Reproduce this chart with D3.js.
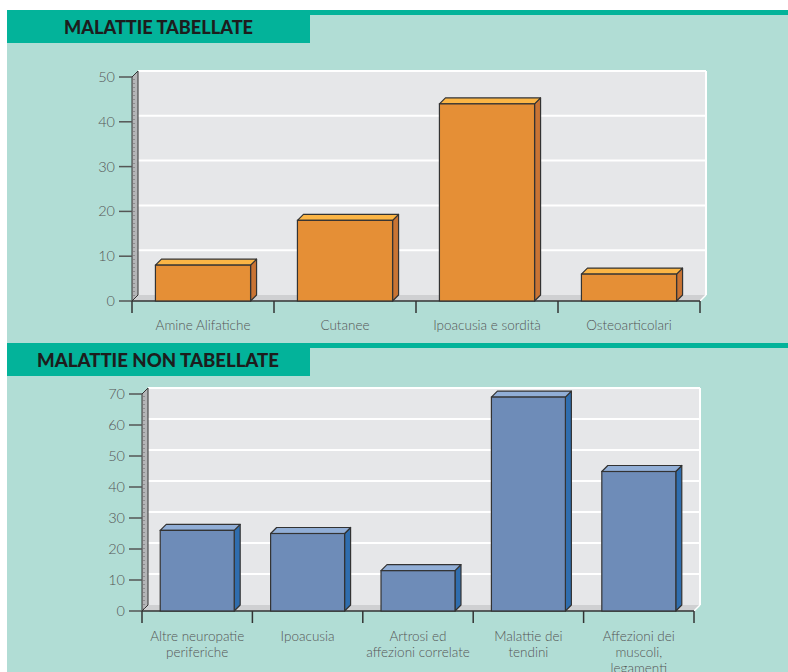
<!DOCTYPE html>
<html lang="it">
<head>
<meta charset="UTF-8">
<title>Malattie</title>
<style>
body { margin: 0; background: #fff; }
svg { display: block; }
.tick-label { font-family: 'Lato', sans-serif; font-weight: 300; font-size: 14.5px; fill: #555; }
.cat-label { font-family: 'Lato', sans-serif; font-weight: 300; font-size: 13.5px; fill: #555; }
.header { font-family: 'Lato', sans-serif; font-weight: 900; font-size: 19px; fill: #1d1d1d; }
</style>
</head>
<body>
<div id="chart"></div>
<script src="https://cdnjs.cloudflare.com/ajax/libs/d3/7.8.5/d3.min.js"></script>
<script>

// chart 1
var tabCategories = ["Amine Alifatiche", "Cutanee", "Ipoacusia e sordità", "Osteoarticolari"];
var tabValues = [8, 18, 44, 6];
var tabTicks = [0, 10, 20, 30, 40, 50];

// chart 2
var nonTabCategories = ["Altre neuropatie|periferiche", "Ipoacusia", "Artrosi ed|affezioni correlate", "Malattie dei|tendini", "Affezioni dei|muscoli,|legamenti"];
var nonTabValues = [26, 25, 13, 69, 45];
var nonTabTicks = [0, 10, 20, 30, 40, 50, 60, 70];

var width = 788, height = 672;
var dark = '#03b39a', light = '#b1ddd5';

var svg = d3.select('#chart').append('svg')
  .attr('width', width)
  .attr('height', height);

svg.append('rect').attr('x', 7).attr('y', 10).attr('width', width - 7).attr('height', height - 10).attr('fill', light);

function header(y, text, tx, len) {
  svg.append('rect').attr('x', 7).attr('y', y).attr('width', width - 7).attr('height', 5).attr('fill', dark);
  svg.append('rect').attr('x', 7).attr('y', y).attr('width', 303).attr('height', 33).attr('fill', dark);
  svg.append('text').attr('class', 'header')
    .attr('x', tx).attr('y', y + 24)
    .attr('textLength', len).attr('lengthAdjust', 'spacingAndGlyphs')
    .text(text);
}

function chart(opt) {
  var d = 6; // depth
  var g = svg.append('g');
  var x = d3.scaleBand().domain(opt.categories).range([opt.x0, opt.x1])
    .paddingInner(0.33).paddingOuter(0.165);
  var y = d3.scaleLinear().domain([0, opt.max]).range([opt.y0, opt.y1]);
  var y0 = y(0), yTop = y(opt.max);

  // back wall
  g.append('rect').attr('x', opt.x0 + d).attr('y', yTop - d)
    .attr('width', opt.x1 - opt.x0).attr('height', y0 - yTop)
    .attr('fill', '#e6e7e9');
  g.selectAll('.grid').data(opt.ticks.slice(1)).enter().append('line')
    .attr('x1', opt.x0 + d).attr('x2', opt.x1 + d)
    .attr('y1', function (t) { return y(t) - d; })
    .attr('y2', function (t) { return y(t) - d; })
    .attr('stroke', '#fff').attr('stroke-width', 2);
  g.append('line').attr('x1', opt.x1 + d).attr('x2', opt.x1 + d)
    .attr('y1', yTop - d).attr('y2', y0 - d)
    .attr('stroke', '#fff').attr('stroke-width', 2);

  // floor
  g.append('path')
    .attr('d', 'M' + opt.x0 + ',' + y0 + 'L' + (opt.x0 + d) + ',' + (y0 - d) +
      'L' + (opt.x1 + d) + ',' + (y0 - d) + 'L' + opt.x1 + ',' + y0 + 'Z')
    .attr('fill', '#cfd0d2');
  g.append('line').attr('x1', opt.x1).attr('x2', opt.x1 + d)
    .attr('y1', y0).attr('y2', y0 - d).attr('stroke', '#fff').attr('stroke-width', 1.5);

  // left wall
  g.append('path')
    .attr('d', 'M' + opt.x0 + ',' + y0 + 'L' + opt.x0 + ',' + yTop +
      'L' + (opt.x0 + d) + ',' + (yTop - d) + 'L' + (opt.x0 + d) + ',' + (y0 - d) + 'Z')
    .attr('fill', '#b4b5b7').attr('stroke', '#333').attr('stroke-width', 1);
  g.append('line').attr('x1', opt.x0 + 2).attr('x2', opt.x0 + 2)
    .attr('y1', yTop + 2).attr('y2', y0 - 2)
    .attr('stroke', '#666').attr('stroke-width', 1).attr('stroke-dasharray', '1,3');

  // y axis ticks
  g.selectAll('.ytick').data(opt.ticks).enter().append('line')
    .attr('x1', opt.x0 - 13).attr('x2', opt.x0)
    .attr('y1', function (t) { return y(t); })
    .attr('y2', function (t) { return y(t); })
    .attr('stroke', '#555').attr('stroke-width', 1.5);
  g.selectAll('.tick-label').data(opt.ticks).enter().append('text')
    .attr('class', 'tick-label')
    .attr('x', opt.x0 - 17)
    .attr('y', function (t) { return y(t) + 5; })
    .attr('text-anchor', 'end')
    .text(function (t) { return t; });

  // x axis
  g.append('line').attr('x1', opt.x0).attr('x2', opt.x1)
    .attr('y1', y0).attr('y2', y0).attr('stroke', '#333').attr('stroke-width', 1.5);
  var bounds = d3.range(opt.categories.length + 1).map(function (i) { return opt.x0 + i * x.step(); });
  g.selectAll('.xtick').data(bounds).enter().append('line')
    .attr('x1', function (b) { return b; }).attr('x2', function (b) { return b; })
    .attr('y1', y0).attr('y2', y0 + 12)
    .attr('stroke', '#333').attr('stroke-width', 1.5);

  // bars
  var data = opt.categories.map(function (c, i) { return { c: c, v: opt.values[i] }; });
  var bars = g.selectAll('.bar').data(data).enter().append('g');
  bars.append('path')
    .attr('d', function (b) {
      var bx = x(b.c) + x.bandwidth(), t = y(b.v);
      return 'M' + bx + ',' + t + 'L' + (bx + d) + ',' + (t - d) + 'L' + (bx + d) + ',' + (y0 - d) + 'L' + bx + ',' + y0 + 'Z';
    })
    .attr('fill', opt.side).attr('stroke', '#333').attr('stroke-width', 1.2).attr('stroke-linejoin', 'round');
  bars.append('path')
    .attr('d', function (b) {
      var bx = x(b.c), w = x.bandwidth(), t = y(b.v);
      return 'M' + bx + ',' + t + 'L' + (bx + d) + ',' + (t - d) + 'L' + (bx + w + d) + ',' + (t - d) + 'L' + (bx + w) + ',' + t + 'Z';
    })
    .attr('fill', opt.top).attr('stroke', '#333').attr('stroke-width', 1.2).attr('stroke-linejoin', 'round');
  bars.append('rect')
    .attr('x', function (b) { return x(b.c); })
    .attr('y', function (b) { return y(b.v); })
    .attr('width', x.bandwidth())
    .attr('height', function (b) { return y0 - y(b.v); })
    .attr('fill', opt.front).attr('stroke', '#333').attr('stroke-width', 1.2);

  // category labels
  var labels = g.selectAll('.cat-label').data(opt.categories).enter().append('text')
    .attr('class', 'cat-label')
    .attr('text-anchor', 'middle')
    .attr('y', opt.labelY);
  labels.each(function (c) {
    var t = d3.select(this);
    c.split('|').forEach(function (line, i) {
      t.append('tspan').attr('x', x(c) + x.bandwidth() / 2)
        .attr('dy', i === 0 ? 0 : 16).text(line);
    });
  });
}

header(10, 'MALATTIE TABELLATE', 64, 189);
chart({
  categories: tabCategories, values: tabValues, ticks: tabTicks, max: 50,
  x0: 132, x1: 700, y0: 301, y1: 77, labelY: 330,
  front: '#e58f36', top: '#fbb545', side: '#c97434'
});

header(343, 'MALATTIE NON TABELLATE', 37, 242);
chart({
  categories: nonTabCategories, values: nonTabValues, ticks: nonTabTicks, max: 70,
  x0: 142, x1: 694, y0: 611, y1: 394, labelY: 641,
  front: '#6e8cb8', top: '#91aed6', side: '#2f6dae'
});

</script>
</body>
</html>
